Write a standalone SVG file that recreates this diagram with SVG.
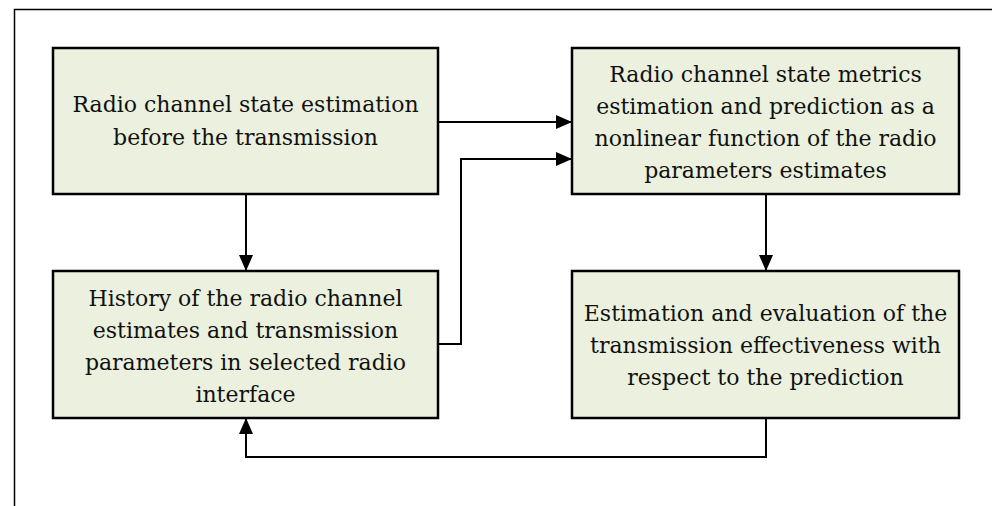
<svg xmlns="http://www.w3.org/2000/svg" width="992" height="506" viewBox="0 0 992 506">
<style>
.box{fill:#EBF1DE;stroke:#000;stroke-width:2.5}
.t{font-family:"DejaVu Serif","Liberation Serif",serif;font-size:22px;fill:#111;text-anchor:middle}
.c{fill:none;stroke:#000;stroke-width:2}
</style>
<defs>
<marker id="ah" markerUnits="userSpaceOnUse" markerWidth="16" markerHeight="14" refX="15" refY="7" orient="auto">
<path d="M0,0 L16,7 L0,14 Z" fill="#000"/>
</marker>
</defs>
<rect width="992" height="506" fill="#fff"/>
<path d="M14.5,506 V9.5 H992" fill="none" stroke="#000" stroke-width="1.5"/>
<g id="n1">
<rect class="box" x="53" y="48" width="385" height="146"/>
<text class="t" x="245.5" y="112">Radio channel state estimation</text>
<text class="t" x="245.5" y="145">before the transmission</text>
</g>
<g id="n2">
<rect class="box" x="572" y="48" width="387" height="146"/>
<text class="t" x="765.5" y="82">Radio channel state metrics</text>
<text class="t" x="765.5" y="114">estimation and prediction as a</text>
<text class="t" x="765.5" y="146">nonlinear function of the radio</text>
<text class="t" x="765.5" y="178">parameters estimates</text>
</g>
<g id="n3">
<rect class="box" x="53" y="271" width="385" height="147"/>
<text class="t" x="245.5" y="306">History of the radio channel</text>
<text class="t" x="245.5" y="338">estimates and transmission</text>
<text class="t" x="245.5" y="370">parameters in selected radio</text>
<text class="t" x="245.5" y="402">interface</text>
</g>
<g id="n4">
<rect class="box" x="572" y="271" width="387" height="147"/>
<text class="t" x="765.5" y="321">Estimation and evaluation of the</text>
<text class="t" x="765.5" y="353">transmission effectiveness with</text>
<text class="t" x="765.5" y="385">respect to the prediction</text>
</g>
<g id="connectors">
<path class="c" d="M439,122 H571" marker-end="url(#ah)"/>
<path class="c" d="M439,344 H461 V159 H571" marker-end="url(#ah)"/>
<path class="c" d="M246,195 V270" marker-end="url(#ah)"/>
<path class="c" d="M766,195 V270" marker-end="url(#ah)"/>
<path class="c" d="M766,419 V457 H246 V419" marker-end="url(#ah)"/>
</g>
</svg>
